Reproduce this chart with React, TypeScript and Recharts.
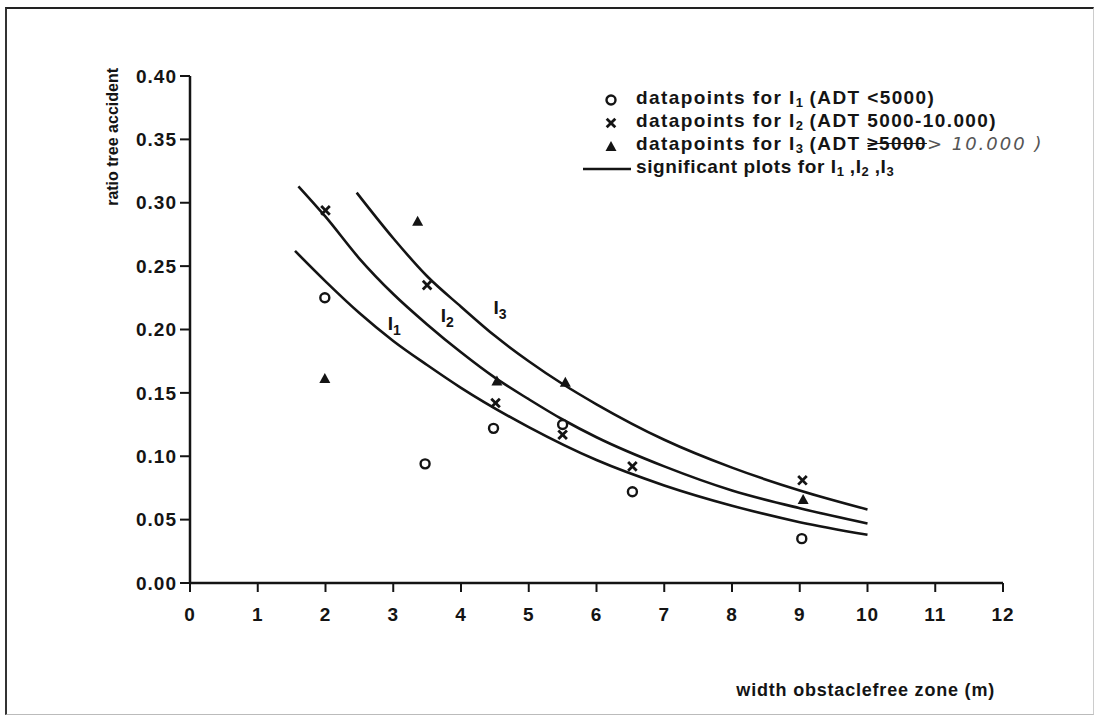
import React from 'react';
import { ComposedChart, Line, Scatter, XAxis, YAxis, Legend, ReferenceDot } from 'recharts';

// fitted curves
const i1CurveX = [1.55, 2, 2.5, 3, 3.5, 4, 5, 6, 7, 8, 9, 10];
const i1CurveY = [0.262, 0.238, 0.213, 0.191, 0.172, 0.154, 0.123, 0.097, 0.077, 0.061, 0.048, 0.038];
const i2CurveX = [1.6, 2, 2.5, 3, 3.5, 4, 4.5, 5, 5.5, 6, 7, 8, 9, 10];
const i2CurveY = [0.313, 0.289, 0.256, 0.228, 0.204, 0.182, 0.162, 0.145, 0.129, 0.115, 0.092, 0.073, 0.059, 0.047];
const i3CurveX = [2.46, 3, 3.5, 4, 4.5, 5, 5.5, 6, 7, 8, 9, 10];
const i3CurveY = [0.308, 0.272, 0.242, 0.218, 0.195, 0.175, 0.157, 0.141, 0.113, 0.091, 0.073, 0.058];

// measured points
const i1PointX = [1.99, 3.47, 4.48, 5.5, 6.53, 9.03];
const i1PointY = [0.225, 0.094, 0.122, 0.125, 0.072, 0.035];
const i2PointX = [2.0, 3.5, 4.51, 5.5, 6.53, 9.04];
const i2PointY = [0.294, 0.235, 0.142, 0.117, 0.092, 0.081];
const i3PointX = [1.99, 3.36, 4.53, 5.54, 9.05];
const i3PointY = [0.161, 0.285, 0.159, 0.158, 0.0655];

const xTicks = [0, 1, 2, 3, 4, 5, 6, 7, 8, 9, 10, 11, 12];
const yTicks = [0, 0.05, 0.1, 0.15, 0.2, 0.25, 0.3, 0.35, 0.4];

const toRows = (xs: number[], ys: number[]) => xs.map((x, i) => ({ x, y: ys[i] }));

const FONT = '"Liberation Sans", Arial, sans-serif';
const INK = '#141414';

const OpenCircle = (p: any) => (
  <circle cx={p.cx} cy={p.cy} r={4.5} fill="#fff" stroke={INK} strokeWidth={2.4} />
);
const Cross = (p: any) => (
  <g stroke={INK} strokeWidth={2.8}>
    <line x1={p.cx - 4.3} y1={p.cy - 4.3} x2={p.cx + 4.3} y2={p.cy + 4.3} />
    <line x1={p.cx - 4.3} y1={p.cy + 4.3} x2={p.cx + 4.3} y2={p.cy - 4.3} />
  </g>
);
const Triangle = (p: any) => (
  <polygon points={`${p.cx},${p.cy - 6} ${p.cx - 5.5},${p.cy + 4} ${p.cx + 5.5},${p.cy + 4}`} fill={INK} />
);

const curveLabel = (n: string) => (p: any) => (
  <text x={p.cx} y={p.cy} fontFamily={FONT} fontWeight="bold" fontSize={19} fill={INK}>
    I<tspan dy={5} fontSize={14}>{n}</tspan>
  </text>
);

function LegendBox() {
  const row: React.CSSProperties = { display: 'flex', alignItems: 'center', height: 23, whiteSpace: 'nowrap' };
  const sym: React.CSSProperties = { width: 53, display: 'flex', justifyContent: 'flex-end', paddingRight: 18, boxSizing: 'border-box' };
  const sub = (n: string) => <sub style={{ fontSize: 13, verticalAlign: -3, letterSpacing: 0 }}>{n}</sub>;
  return (
    <div style={{ fontFamily: FONT, fontWeight: 'bold', fontSize: 19, color: INK, letterSpacing: 1.4, lineHeight: '23px' }}>
      <div style={row}>
        <span style={sym}><svg width={14} height={14}><OpenCircle cx={7} cy={7} /></svg></span>
        <span>datapoints for I{sub('1')} (ADT &lt;5000)</span>
      </div>
      <div style={row}>
        <span style={sym}><svg width={14} height={14}><Cross cx={7} cy={7} /></svg></span>
        <span>datapoints for I{sub('2')} (ADT 5000-10.000)</span>
      </div>
      <div style={row}>
        <span style={sym}><svg width={14} height={14}><Triangle cx={7} cy={8} /></svg></span>
        <span>
          datapoints for I{sub('3')} (ADT <span style={{ textDecoration: 'line-through' }}>≥5000</span>
          <span style={{ fontFamily: '"DejaVu Sans", sans-serif', fontWeight: 'normal', fontStyle: 'italic', color: '#555', fontSize: 18, letterSpacing: 2 }}>&gt; 10.000 )</span>
        </span>
      </div>
      <div style={row}>
        <span style={{ width: 53, display: 'flex', paddingRight: 5, boxSizing: 'border-box' }}>
          <svg width={48} height={6}><line x1={0} y1={3} x2={48} y2={3} stroke={INK} strokeWidth={2.5} /></svg>
        </span>
        <span style={{ letterSpacing: 0.6 }}>significant plots for I{sub('1')} ,I{sub('2')} ,I{sub('3')}</span>
      </div>
    </div>
  );
}

export default function App() {
  const tick = { fontFamily: FONT, fontWeight: 'bold', fontSize: 19, fill: INK, letterSpacing: 1 };
  return (
    <div
      style={{
        position: 'absolute', left: 5, top: 7, width: 1086, height: 705, background: '#fff',
        borderTop: '2px solid #222', borderLeft: '2px solid #333', borderRight: '1px solid #ccc', borderBottom: '1px solid #bbb',
      }}
    >
      <ComposedChart width={1086} height={705} margin={{ top: 67, right: 90, left: 103, bottom: 91 }}>
        <XAxis
          type="number" dataKey="x" domain={[0, 12]} ticks={xTicks} tick={tick}
          stroke={INK} strokeWidth={2.5} tickSize={9} tickMargin={16} height={40}
          tickLine={{ stroke: INK, strokeWidth: 2 }} allowDataOverflow
          label={{
            content: (p: any) => (
              <text x={p.viewBox.x + p.viewBox.width - 8} y={p.viewBox.y + 113} textAnchor="end"
                fontFamily={FONT} fontWeight="bold" fontSize={18} letterSpacing={0.8} fill={INK}>width obstaclefree zone (m)</text>
            ),
          }}
        />
        <YAxis
          type="number" dataKey="y" domain={[0, 0.4]} ticks={yTicks} tick={tick}
          tickFormatter={(v: number) => v.toFixed(2)}
          stroke={INK} strokeWidth={2.5} tickSize={10} tickMargin={3} width={80}
          tickLine={{ stroke: INK, strokeWidth: 2 }} allowDataOverflow
          label={{
            content: (p: any) => {
              const x = p.viewBox.x + 8;
              const y = p.viewBox.y - 8;
              return (
                <text x={x} y={y} transform={`rotate(-90 ${x} ${y})`} textAnchor="end"
                  fontFamily={FONT} fontWeight="bold" fontSize={16} fill={INK}>ratio tree accident</text>
              );
            },
          }}
        />
        <Line data={toRows(i1CurveX, i1CurveY)} dataKey="y" type="monotone" stroke={INK} strokeWidth={2.6} dot={false} isAnimationActive={false} legendType="none" />
        <Line data={toRows(i2CurveX, i2CurveY)} dataKey="y" type="monotone" stroke={INK} strokeWidth={2.6} dot={false} isAnimationActive={false} legendType="none" />
        <Line data={toRows(i3CurveX, i3CurveY)} dataKey="y" type="monotone" stroke={INK} strokeWidth={2.6} dot={false} isAnimationActive={false} legendType="none" />
        <Scatter data={toRows(i1PointX, i1PointY)} dataKey="y" shape={OpenCircle} isAnimationActive={false} />
        <Scatter data={toRows(i2PointX, i2PointY)} dataKey="y" shape={Cross} isAnimationActive={false} />
        <Scatter data={toRows(i3PointX, i3PointY)} dataKey="y" shape={Triangle} isAnimationActive={false} />
        <ReferenceDot x={2.92} y={0.2} r={0} shape={curveLabel('1')} />
        <ReferenceDot x={3.7} y={0.206} r={0} shape={curveLabel('2')} />
        <ReferenceDot x={4.48} y={0.212} r={0} shape={curveLabel('3')} />
        <Legend
          layout="horizontal" verticalAlign="middle" align="center"
          content={() => <LegendBox />}
          wrapperStyle={{ position: 'absolute', left: 576, top: 79, width: 'auto', height: 'auto' }}
        />
      </ComposedChart>
    </div>
  );
}
